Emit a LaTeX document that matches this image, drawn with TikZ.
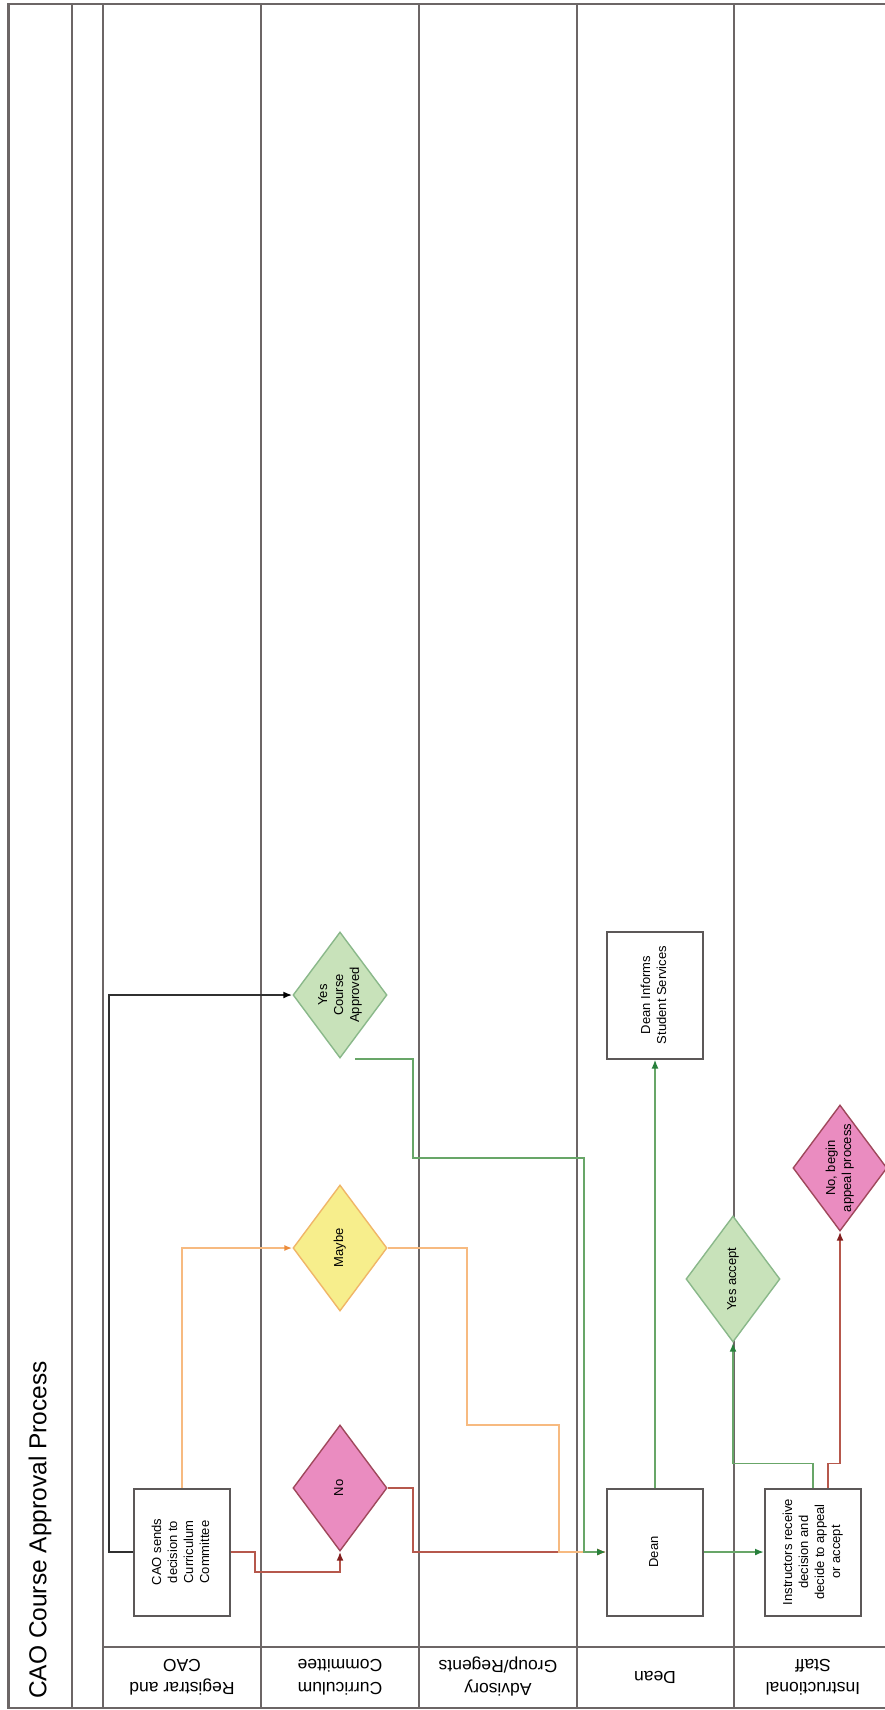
\documentclass[tikz,border=0pt]{standalone}
\usepackage{fontspec}
\setmainfont{Liberation Sans}
\usetikzlibrary{shapes.geometric,arrows.meta,calc}

\definecolor{laneline}{RGB}{108,102,102}
\definecolor{boxline}{RGB}{92,88,88}
\definecolor{pinkfill}{RGB}{234,140,192}
\definecolor{pinkline}{RGB}{160,72,92}
\definecolor{yelfill}{RGB}{247,238,140}
\definecolor{yelline}{RGB}{240,182,104}
\definecolor{grnfill}{RGB}{200,226,186}
\definecolor{grnline}{RGB}{138,184,138}
\definecolor{flowgreen}{RGB}{104,166,104}
\definecolor{tipgreen}{RGB}{40,128,60}
\definecolor{floworange}{RGB}{247,186,128}
\definecolor{tiporange}{RGB}{236,140,60}
\definecolor{flowbrown}{RGB}{182,88,76}
\definecolor{tipbrown}{RGB}{130,30,30}
\definecolor{flowblack}{RGB}{48,48,48}

\newcommand\nodefont{\fontsize{13}{16}\selectfont}
\newcommand\lanefont{\fontsize{17.5}{23}\selectfont}
\newcommand\titlefont{\fontsize{24.5}{28}\selectfont}
% text set upright in the rotated chart: lines run bottom to top
\newcommand\vtext[1]{\rotatebox{90}{\begin{tabular}{@{}c@{}}#1\end{tabular}}}

\begin{document}
\begin{tikzpicture}[x=1pt,y=-1pt,
  lane/.style={draw=laneline, line width=2.2pt},
  procbox/.style={draw=boxline, line width=2pt, fill=white,
    minimum width=96pt, minimum height=127pt, inner sep=0pt, font=\nodefont},
  decision/.style={diamond, line width=1.4pt, minimum width=94pt,
    minimum height=126pt, inner sep=0pt},
  nodec/.style={decision, fill=pinkfill, draw=pinkline},
  maybedec/.style={decision, fill=yelfill, draw=yelline},
  yesdec/.style={decision, fill=grnfill, draw=grnline},
  every label/.style={font=\nodefont, inner sep=0pt},
  lanelabel/.style={rotate=180, font=\lanefont, align=center, inner sep=0pt},
  flow/.style={line width=1.8pt, rounded corners=0pt},
  greenflow/.style={flow, draw=flowgreen, -{Latex[length=9pt,width=7pt,color=tipgreen]}},
  orangeflow/.style={flow, draw=floworange, -{Latex[length=8pt,width=6pt,color=tiporange]}},
  brownflow/.style={flow, draw=flowbrown, -{Latex[length=9pt,width=7pt,color=tipbrown]}},
  blackflow/.style={flow, draw=flowblack, -{Latex[length=9pt,width=7pt,color=black]}}
]
\useasboundingbox (0,0) rectangle (885,1710);
\clip (0,0) rectangle (885,1710);
\fill[white] (0,0) rectangle (885,1710);

% pool frame, title column and swimlanes
\draw[lane] (8.5,4) rectangle (895,1708);
\foreach \lx in {72,103,261,419,577,734}
  \draw[lane] (\lx,4) -- (\lx,1708);
\draw[lane] (103,1647) -- (895,1647);

\node[rotate=90, anchor=west, font=\titlefont, inner sep=0pt] (title)
  at (40,1699) {CAO Course Approval Process};

\node[lanelabel] (lab1) at (182,1677) {Registrar and\\CAO};
\node[lanelabel] (lab2) at (340,1677) {Curriculum\\Committee};
\node[lanelabel] (lab3) at (498,1677) {Advisory\\Group/Regents};
\node[lanelabel] (lab4) at (655,1677) {Dean};
\node[lanelabel] (lab5) at (813,1677) {Instructional\\Staff};

% process steps
\node[procbox] (cao) at (182,1552) {\vtext{CAO sends\\decision to\\Curriculum\\Committee}};
\node[procbox] (dean) at (655,1552) {\vtext{Dean}};
\node[procbox] (instr) at (813,1552) {\vtext{Instructors receive\\decision and\\decide to appeal\\or accept}};
\node[procbox] (dsi) at (655,995) {\vtext{Dean Informs\\Student Services}};

% decisions
\node[nodec, label={center:{\vtext{No}}}] (no) at (340,1488) {};
\node[maybedec, label={center:{\vtext{Maybe}}}] (maybe) at (340,1248) {};
\node[yesdec, label={center:{\vtext{Yes\\Course\\Approved}}}] (yesca) at (340,995) {};
\node[yesdec, label={center:{\vtext{Yes accept}}}] (yesacc) at (733,1279) {};
\node[nodec, label={center:{\vtext{No, begin\\appeal process}}}] (appeal) at (840,1168) {};

% connectors
\draw[blackflow] (cao.west) -- ++(-24,0) |- (yesca.west);
\draw[orangeflow] (cao.north) |- (maybe.west);
\draw[brownflow] (cao.east) -- ++(24,0) -- ++(0,20) -| (no.south);
\draw[brownflow] (no.east) -- ++(25,0) |- (dean.west);
\draw[orangeflow] (maybe.east) -- ++(79,0) -- ++(0,177) -- ++(92,0) |- (dean.west);
\draw[greenflow] ($(yesca.south)+(15,0)$) -- ++(58,0) -- ++(0,99) -- ++(171,0) |- (dean.west);
\draw[greenflow] (dean.north) -- (dsi.south);
\draw[greenflow] (dean.east) -- (instr.west);
\draw[greenflow] (instr.north) -- ++(0,-24) -| (yesacc.south);
\draw[brownflow] ($(instr.north)+(15,0)$) -- ++(0,-24) -| (appeal.south);
\end{tikzpicture}
\end{document}
